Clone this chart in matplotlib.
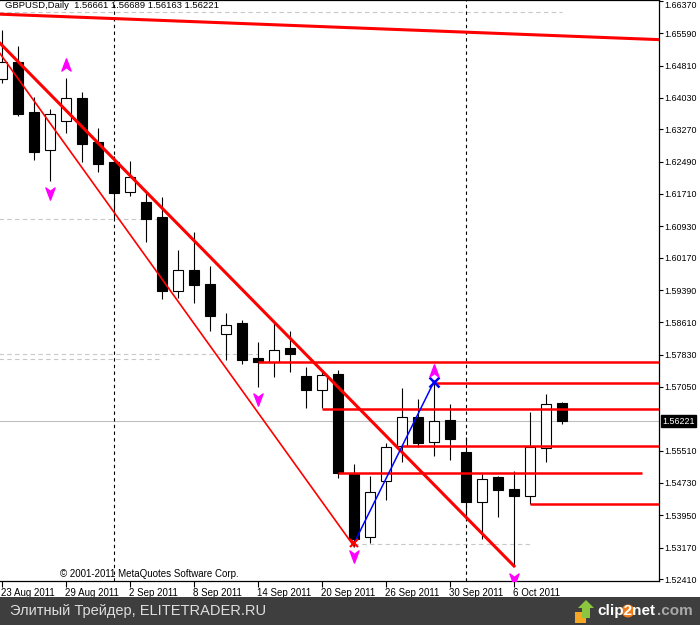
import matplotlib
matplotlib.use("Agg")
import matplotlib.pyplot as plt
import matplotlib.transforms as mtransforms
from matplotlib.path import Path
from matplotlib.patches import Rectangle, Polygon, Circle

plt.rcParams['font.family'] = ['Liberation Sans', 'DejaVu Sans']

# GBPUSD daily bars 23 Aug - 11 Oct 2011 (bar index 0..35)
opens = [1.64486, 1.64890, 1.63682, 1.62764, 1.63465, 1.64027, 1.62957, 1.62474, 1.61750, 1.61508,
         1.61153, 1.59359, 1.59873, 1.59535, 1.58320, 1.58586, 1.57740, 1.57658, 1.57982, 1.57313,
         1.56982, 1.57354, 1.54946, 1.53417, 1.54777, 1.55622, 1.56316, 1.55712, 1.56243, 1.55470,
         1.54282, 1.54874, 1.54584, 1.54422, 1.55567, 1.56661]
highs = [1.65670, 1.65283, 1.64055, 1.63762, 1.64503, 1.64179, 1.63295, 1.62626, 1.62506, 1.61740,
         1.61636, 1.60356, 1.60784, 1.59970, 1.58835, 1.58665, 1.58127, 1.58586, 1.58393, 1.57538,
         1.57458, 1.57458, 1.55188, 1.54898, 1.55688, 1.57016, 1.56757, 1.57216, 1.56637, 1.55847,
         1.54946, 1.54905, 1.55019, 1.56451, 1.56878, 1.56689]
lows = [1.64390, 1.63600, 1.62530, 1.62023, 1.63189, 1.62489, 1.62247, 1.61105, 1.61668, 1.60557,
        1.59166, 1.59190, 1.59083, 1.58407, 1.57699, 1.57591, 1.57040, 1.57277, 1.57417, 1.56533,
        1.56533, 1.54842, 1.53190, 1.53287, 1.54318, 1.55224, 1.55598, 1.55381, 1.55284, 1.53835,
        1.53376, 1.53915, 1.52724, 1.54222, 1.55243, 1.56163]
closes = [1.64897, 1.63634, 1.62730, 1.63634, 1.64020, 1.62924, 1.62441, 1.61740, 1.62112, 1.61105,
          1.59373, 1.59866, 1.59518, 1.58769, 1.58538, 1.57711, 1.57644, 1.57953, 1.57856, 1.56982,
          1.57337, 1.54963, 1.53376, 1.54504, 1.55606, 1.56316, 1.55702, 1.56219, 1.55799, 1.54282,
          1.54837, 1.54567, 1.54422, 1.55598, 1.56637, 1.56221]
last_price = 1.56221

# date axis
tick_bars = [0, 4, 8, 12, 16, 20, 24, 28, 32]
tick_labels = ["23 Aug 2011", "29 Aug 2011", "2 Sep 2011", "8 Sep 2011", "14 Sep 2011",
               "20 Sep 2011", "26 Sep 2011", "30 Sep 2011", "6 Oct 2011"]
separator_bars = [7, 29]   # month breaks

# price axis
price_ticks = [1.66370, 1.65590, 1.64810, 1.64030, 1.63270, 1.62490, 1.61710, 1.60930, 1.60170,
               1.59390, 1.58610, 1.57830, 1.57050, 1.55510, 1.54730, 1.53950, 1.53170, 1.52410]

# trend lines (bar, price) pairs
top_line_x = [0, 41]
top_line_y = [1.66050, 1.65438]
upper_chan_x = [-1, 32]
upper_chan_y = [1.65693, 1.52724]
lower_chan_x = [-1, 22]
lower_chan_y = [1.65572, 1.53200]
blue_x = [22, 27]
blue_y = [1.53272, 1.57175]

# horizontal levels
levels = [1.57658, 1.57144, 1.56523, 1.55630, 1.54978, 1.54229]
level_start = [16, 27, 20, 25, 21, 33]
level_end = [42, 42, 42, 42, 40, 42]

# light grey dashed lines
dash_levels = [1.66112, 1.61105, 1.57844, 1.57716, 1.53256]
dash_start = [-1, -1, -1, -1, 22]
dash_end = [35, 10, 16, 10, 33]

# fractal arrows
up_bars = [4, 27]
up_prices = [1.64808, 1.57417]
down_bars = [3, 16, 22, 32]
down_prices = [1.61764, 1.56774, 1.52990, 1.52442]

fig = plt.figure(figsize=(7, 6.25), dpi=100)
ax = fig.add_axes([0, 44 / 625, 659 / 700, 581 / 625])
ax.set_xlim(-0.125, 41.0625)
ax.set_ylim(1.52362, 1.66394)

# candles
x = list(range(len(opens)))
ax.vlines(x, lows, highs, color='black', lw=0.8, zorder=2)
bottoms = [min(o, c) for o, c in zip(opens, closes)]
heights = [max(abs(c - o), 0.00004) for o, c in zip(opens, closes)]
fills = ['white' if c >= o else 'black' for o, c in zip(opens, closes)]
ax.bar(x, heights, bottom=bottoms, width=0.63, color=fills, edgecolor='black', linewidth=0.8, zorder=3)

# grid-ish helper lines
ax.axhline(last_price, color='#c0c0c0', lw=0.8, zorder=1)
for lv, s, e in zip(dash_levels, dash_start, dash_end):
    ax.hlines(lv, s, e, color='#c8c8c8', lw=0.8, linestyles=(0, (4, 3)), zorder=1)
for b in separator_bars:
    ax.axvline(b, color='black', lw=0.8, linestyle=(0, (3, 3)), zorder=1)

# red trend lines and levels
ax.axline((top_line_x[0], top_line_y[0]), (top_line_x[1], top_line_y[1]), color='red', lw=2.2, zorder=4)
ax.plot(upper_chan_x, upper_chan_y, color='red', lw=2.2, zorder=4)
ax.plot(lower_chan_x, lower_chan_y, color='red', lw=1.2, zorder=4)
for lv, s, e in zip(levels, level_start, level_end):
    ax.hlines(lv, s, e, color='red', lw=1.8, zorder=4)

# blue swing line
ax.plot(blue_x, blue_y, color='blue', lw=1.1, zorder=5)
ax.plot(blue_x[0], blue_y[0], marker='x', color='red', ms=6, mew=1.5, zorder=6)
ax.plot(blue_x[1], blue_y[1], marker='x', color='blue', ms=7, mew=1.8, zorder=6)

# magenta arrows
up_arrow = Path([(0, 1), (0.6, -0.6), (0, -0.15), (-0.6, -0.6), (0, 1)],
                [Path.MOVETO, Path.LINETO, Path.LINETO, Path.LINETO, Path.CLOSEPOLY])
down_arrow = Path([(0, -1), (0.6, 0.6), (0, 0.15), (-0.6, 0.6), (0, -1)],
                  [Path.MOVETO, Path.LINETO, Path.LINETO, Path.LINETO, Path.CLOSEPOLY])
ax.plot(up_bars, up_prices, ls='none', marker=up_arrow, ms=11, color='#ff00ff', mec='#ff00ff', zorder=6)
ax.plot(down_bars, down_prices, ls='none', marker=down_arrow, ms=11, color='#ff00ff', mec='#ff00ff', zorder=6)

# axes styling
ax.spines['left'].set_visible(False)
for side in ['right', 'bottom', 'top']:
    ax.spines[side].set_linewidth(0.9)
ax.yaxis.tick_right()
ax.set_yticks(price_ticks, [f"{p:.5f}" for p in price_ticks])
ax.tick_params(axis='y', direction='out', length=3, width=0.8, pad=1, labelsize=6.4)
ax.get_yticklabels()[0].set_verticalalignment('top')
ax.set_xticks(tick_bars, tick_labels)
ax.tick_params(axis='x', direction='out', length=4, width=0.8, pad=1, labelsize=7)
shift = mtransforms.ScaledTranslation(-0.01, 0, fig.dpi_scale_trans)
for lab in ax.get_xticklabels():
    lab.set_horizontalalignment('left')
    lab.set_transform(lab.get_transform() + shift)

# current price tag
tag_tr = mtransforms.blended_transform_factory(ax.transAxes, ax.transData)
ax.text(1.0, last_price, f"{last_price:.5f}",
        transform=tag_tr + mtransforms.ScaledTranslation(0.03, 0, fig.dpi_scale_trans),
        ha='left', va='center', color='white', fontsize=6.4,
        bbox=dict(facecolor='black', edgecolor='black', boxstyle='square,pad=0.15'), zorder=7)

# overlay in pixel coordinates for header, footer and banner
ov = fig.add_axes([0, 0, 1, 1], zorder=10)
ov.set_xlim(0, 700)
ov.set_ylim(625, 0)
ov.axis('off')
ov.patch.set_alpha(0)

ov.text(5, 6, "GBPUSD,Daily  1.56661 1.56689 1.56163 1.56221", fontsize=6.8, va='center', ha='left')
ov.text(60, 574, "\u00a9 2001-2011 MetaQuotes Software Corp.", fontsize=7, va='center', ha='left')

ov.add_patch(Rectangle((0, 597), 700, 28, color='#3e3e3e', lw=0))
ov.text(10, 611, "Элитный Трейдер, ELITETRADER.RU", fontsize=10.5, color='#dedede', va='center', ha='left')

# clip2net logo
ov.add_patch(Rectangle((575, 612), 11, 11, color='#f5a623', lw=0))
ov.add_patch(Polygon([(586, 600), (594, 608), (590, 608), (590, 618), (582, 618), (582, 608), (578, 608)],
                     closed=True, color='#8cc63f', lw=0))
ov.add_patch(Circle((628, 611), 6.5, color='#f07d1a', lw=0))
ov.text(597, 611, "clip2net", fontsize=11, fontweight='bold', color='white', va='center', ha='left')
ov.text(657, 611, ".com", fontsize=11, fontweight='bold', color='#a8a8a8', va='center', ha='left')

fig.savefig("out.png", dpi=100)
